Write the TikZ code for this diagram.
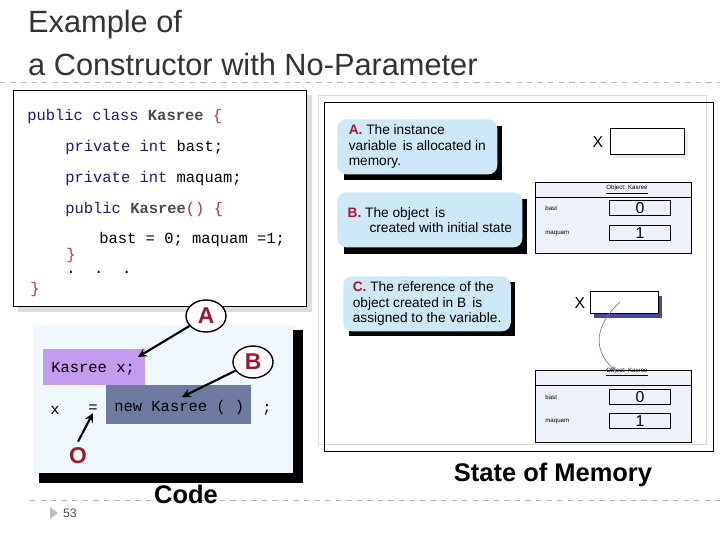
\documentclass[tikz,border=0pt]{standalone}
\usepackage{fontspec}
\setmainfont{Liberation Sans}
\newfontfamily\codefont{Liberation Mono}
\usetikzlibrary{positioning,shapes.geometric,calc}
\definecolor{kw}{HTML}{1A1A80}
\definecolor{brc}{HTML}{C03030}
\definecolor{callbg}{HTML}{CDE9F8}
\definecolor{panelbg}{HTML}{EEF8FD}
\definecolor{objbg}{HTML}{EEF2FB}
\definecolor{purp}{HTML}{C39BEF}
\definecolor{slate}{HTML}{6F7AA0}
\definecolor{letter}{HTML}{A01830}
\begin{document}
\begin{tikzpicture}[x=0.02cm, y=-0.02cm,
				title/.style={anchor=west, font=\fontsize{17.5}{18}\selectfont, text=black!80},
				code/.style={anchor=west, font=\codefont\fontsize{8.8}{9}\selectfont, inner sep=0pt},
				letterbub/.style={ellipse, draw=black, thick, fill=white, minimum width=8mm, minimum height=6.4mm, inner sep=0pt, text=letter, font=\bfseries\fontsize{13}{13}\selectfont},
				callout/.style={rectangle, rounded corners=5pt, fill=callbg, anchor=north west, align=left, font=\fontsize{7.8}{8.8}\selectfont, inner sep=3pt},
				valbox/.style={rectangle, draw=black, fill=objbg, minimum width=1.22cm, minimum height=0.29cm, inner sep=0pt, font=\fontsize{9}{9}\selectfont},
				small/.style={anchor=west, font=\fontsize{3.5}{4}\selectfont, inner sep=0pt},
				bigbold/.style={font=\bfseries\fontsize{14.5}{15}\selectfont}
			]
			\useasboundingbox (0,0) rectangle (720,540);
			% title
			\node[title] (title1) at (22,25) {Example of};
			\node[title] (title2) at (22,65) {a Constructor with No-Parameter};
			\draw[gray!60, dashed] (0,82) -- (720,82);
			\draw[gray!60, dashed] (30,500) -- (720,500);
			% class code box
			\fill[blue!10!gray!25] (18,95) rectangle (312,312);
			\draw[fill=white] (13,90) rectangle (306,306);
			\node[code] (l1) at (27,117) {\textcolor{kw}{public class} \textbf{\textcolor{black!70}{Kasree}} \textcolor{brc}{\{}};
			\node[code] (l2) at (65,148) {\textcolor{kw}{private int} bast;};
			\node[code] (l3) at (65,179) {\textcolor{kw}{private int} maquam;};
			\node[code] (l4) at (65,210) {\textcolor{kw}{public} \textbf{\textcolor{black!70}{Kasree}}\textcolor{brc}{() \{}};
			\node[code] (l5) at (99,240) {bast = 0; maquam =1;};
			\node[code] (l6) at (66,256) {\textcolor{brc}{\}}};
			\node[code] (l7) at (66,272) {.\ \ .\ \ .};
			\node[code] (l8) at (30,290) {\textcolor{brc}{\}}};
			% usage panel
			\fill[panelbg] (33,325) rectangle (295,475);
			\draw[line width=6pt] (298,330) -- (298,478) -- (39,478);
			\fill[purp] (43,349) rectangle (145,385);
			\fill[slate] (106,385) rectangle (251,424);
			\node[code] (decl) at (51,369) {Kasree x;};
			\node[code] (newobj) at (114,408) {new Kasree ( )};
			\node[code] (xvar) at (50,410) {x};
			\node[code] (eq) at (88,409) {=};
			\node[code] (semi) at (262,410) {;};
			\node[letterbub] (bubA) at (206,316) {A};
			\node[letterbub] (bubB) at (253,362) {B};
			\node[text=letter, font=\bfseries\fontsize{13}{13}\selectfont] (bubO) at (78,456) {O};
			\coordinate (tipA) at (138,357);
			\coordinate (tipB) at (182,397);
			\begin{scope}[very thick, -stealth]
			\draw (bubA) -- (tipA);
			\draw (bubB) -- (tipB);
			\draw (bubO.north) -- (eq.south);
			\end{scope}
			\node[bigbold] (codelabel) at (186,494) {Code};
			\fill[gray!50] (50,507) -- (58,513) -- (50,519) -- cycle;
			\node[font=\fontsize{7}{8}\selectfont, text=black!70] (pagenum) at (70,513) {53};
			% memory panel
			\draw[gray!30] (318,95) rectangle (706,444);
			\draw (324,102) rectangle (713,451);
			\fill[black] (344,126) rectangle (502,180);
			\node[callout, minimum width=3.2cm, minimum height=1.1cm] (callA) at (337,119) {\textcolor{letter}{\textbf{A.}} The instance\\variable\, is allocated in\\memory.};
			\fill[black] (344,199) rectangle (527,254);
			\node[callout, minimum width=3.7cm, minimum height=1.1cm] (callB) at (337,192) {\textcolor{letter}{\textbf{B.}} The object\, is\\\hspace*{1.6em}created with initial state};
			\fill[black] (349,282) rectangle (515,336);
			\node[callout, minimum width=3.35cm, minimum height=1.1cm] (callC) at (343,276) {\textcolor{letter}{\textbf{C.}} The reference of the\\object created in B\, is\\assigned to the variable.};
			% memory state 1
			\fill[gray!15] (614,132) rectangle (688,158);
			\draw[fill=white] (610,128) rectangle (684,154);
			\node[font=\rmfamily\fontsize{9}{9}\selectfont] (xa) at (598,142) {X};
			\draw[fill=objbg] (535,182) rectangle (691,253);
			\draw (535,197) -- (691,197);
			\node[font=\fontsize{3.5}{4}\selectfont] (hdra) at (627,190) {\underline{Object: Kasree}};
			\node[small] (basta) at (545,208) {bast};
			\node[small] (maqa) at (545,233) {maquam};
			\node[valbox] (v0a) at (640,208) {0};
			\node[valbox] (v1a) at (640,233) {1};
			% memory state 2
			\fill[kw!80] (594,296) rectangle (662,318);
			\draw[fill=white] (590,291) rectangle (658,313);
			\node[font=\rmfamily\fontsize{9}{9}\selectfont] (xb) at (580,303) {X};
			\draw[fill=objbg] (535,370) rectangle (691,442);
			\draw (535,385) -- (691,385);
			\node[font=\fontsize{3.5}{4}\selectfont, anchor=south] (hdrb) at (627,383) {\underline{Object: Kasree}};
			\node[small] (bastb) at (545,397) {bast};
			\node[small] (maqb) at (545,421) {maquam};
			\node[valbox] (v0b) at (640,397) {0};
			\node[valbox] (v1b) at (640,421) {1};
			\coordinate (refstart) at (620,302);
			\coordinate (refend) at (616,371);
			\draw[slate, -stealth] (refstart) .. controls (595,325) and (592,350) .. (refend);
			\node[bigbold] (memlabel) at (553,475) {State of Memory};
\end{tikzpicture}
\end{document}
